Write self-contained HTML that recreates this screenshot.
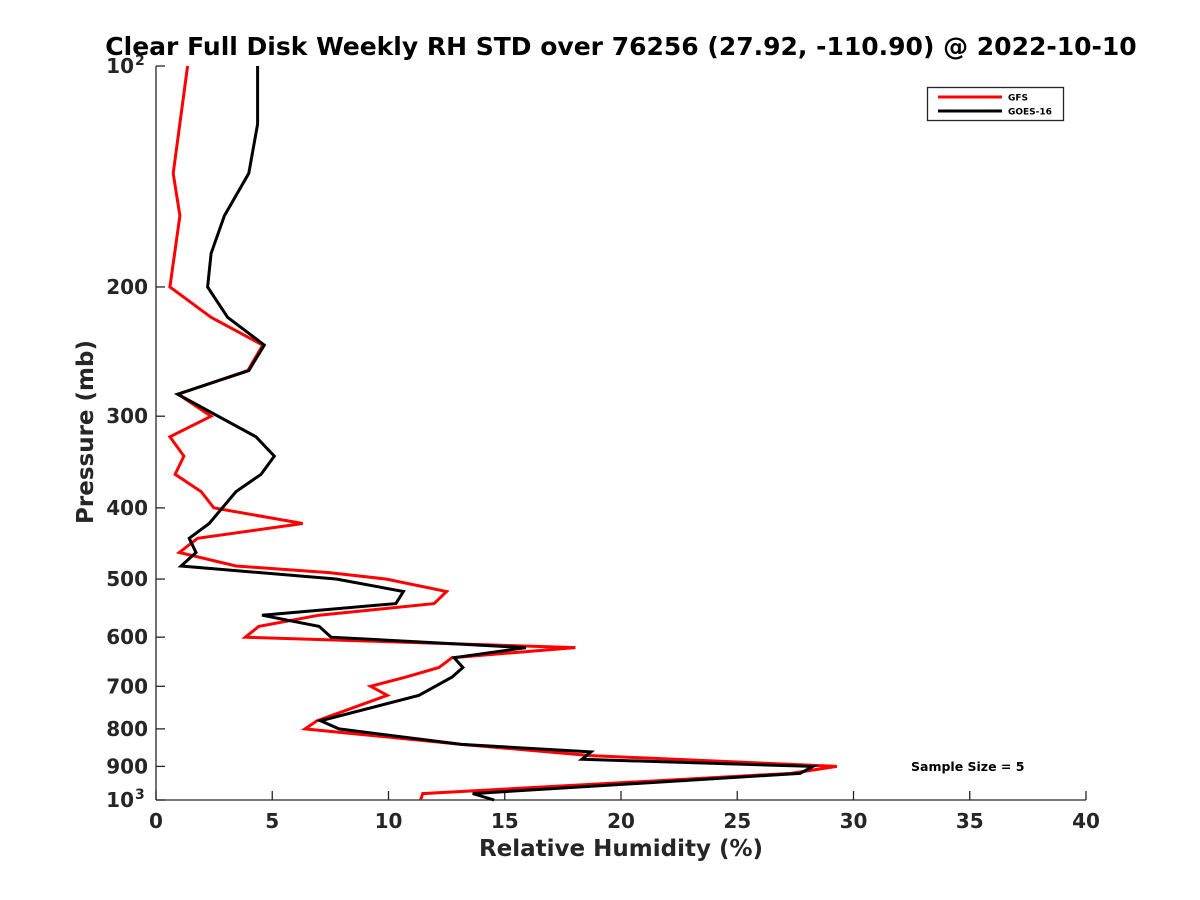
<!DOCTYPE html>
<html><head><meta charset="utf-8"><style>
html,body{margin:0;padding:0;background:#fff;}
svg{display:block;font-family:"DejaVu Sans","Liberation Sans",sans-serif;}
</style></head><body>
<svg id="chart" width="1200" height="900"></svg>
<script>
const gfsPressure=[100,140,160,200,220,240,260,280,300,320,340,360,380,400,420,440,460,480,490,500,520,540,560,580,600,620,640,660,680,700,720,780,800,840,870,900,920,980,1000];
const gfsRH=[1.36,0.74,1.03,0.60,2.37,4.59,3.95,0.95,2.37,0.60,1.20,0.82,1.94,2.49,6.31,1.79,1.00,3.44,7.44,9.89,12.5,11.96,7.01,4.42,3.84,18.04,12.73,12.17,10.75,9.23,9.95,6.92,6.41,13.14,18.71,29.28,27.31,11.47,11.38];
const goesPressure=[100,120,140,160,180,200,220,240,260,280,320,340,360,380,420,440,460,480,500,520,540,560,580,600,620,640,660,680,720,780,800,840,860,880,900,920,980,1000];
const goesRH=[4.37,4.37,3.99,2.94,2.37,2.22,3.08,4.66,3.99,0.93,4.30,5.09,4.52,3.44,2.29,1.43,1.72,1.08,7.74,10.64,10.32,4.56,7.02,7.53,15.91,12.82,13.2,12.73,11.31,7.08,7.87,13.14,18.71,18.32,28.26,27.7,13.62,14.54];
const xTicks=[0,5,10,15,20,25,30,35,40];
const yTicks=[100,200,300,400,500,600,700,800,900,1000];
const yTickLabels=["10","200","300","400","500","600","700","800","900","10"];
const yTickExps=["2","","","","","","","","","3"];

const NS="http://www.w3.org/2000/svg";
const svg=document.getElementById('chart');
const X0=156,X1=1086,Y0=66,Y1=800;
const xs=v=>X0+(v/40)*(X1-X0);
const ys=p=>Y0+Math.log10(p/100)*(Y1-Y0);
function mk(tag,attrs,parent){const e=document.createElementNS(NS,tag);for(const k in attrs)e.setAttribute(k,attrs[k]);(parent||svg).appendChild(e);return e;}

const axes=mk('g',{});


const xa=mk('line',{x1:X0,y1:Y1,x2:X1,y2:Y1,stroke:'#262626','stroke-width':1.3},axes);


const ya=mk('line',{x1:X0,y1:Y0,x2:X0,y2:Y1,stroke:'#262626','stroke-width':1.3},axes);



xTicks.forEach(v=>{
  const t=mk('line',{x1:xs(v),y1:Y1,x2:xs(v),y2:Y1-9,stroke:'#262626','stroke-width':1.3},axes);
  
  
  const l=mk('text',{x:xs(v),y:Y1+28,'text-anchor':'middle','font-size':20,'font-weight':'bold',fill:'#262626'},axes);
  l.textContent=v;
  
  
});
yTicks.forEach((p,i)=>{
  const t=mk('line',{x1:X0,y1:ys(p),x2:X0+9,y2:ys(p),stroke:'#262626','stroke-width':1.3},axes);
  
  
  const exp=yTickExps[i];
  const l=mk('text',{x:exp?X0-22:X0-8,y:ys(p)+7,'text-anchor':'end','font-size':20,'font-weight':'bold',fill:'#262626'},axes);
  l.textContent=yTickLabels[i];
  
  
  if(exp){
    const e=mk('text',{x:X0-21,y:ys(p)-1,'text-anchor':'start','font-size':14,'font-weight':'bold',fill:'#262626'},axes);
    e.textContent=exp;
    
    
  }
});

function series(P,R,color,name){
  const pts=P.map((p,i)=>xs(R[i]).toFixed(1)+','+ys(p).toFixed(1)).join(' ');
  const e=mk('polyline',{points:pts,fill:'none',stroke:color,'stroke-width':3,'stroke-linejoin':'miter'});
  
  
}
series(gfsPressure,gfsRH,'#ff0000','gfs-line');
series(goesPressure,goesRH,'#000000','goes16-line');

const title=mk('text',{x:621,y:55,'text-anchor':'middle','font-size':25,'font-weight':'bold',fill:'#000'});
title.textContent='Clear Full Disk Weekly RH STD over 76256 (27.92, -110.90) @ 2022-10-10';



const xt=mk('text',{x:621,y:856,'text-anchor':'middle','font-size':23,'font-weight':'bold',fill:'#262626'});
xt.textContent='Relative Humidity (%)';



const yt=mk('text',{x:0,y:0,'text-anchor':'middle','font-size':23,'font-weight':'bold',fill:'#262626',transform:'translate(93,432) rotate(-90)'});
yt.textContent='Pressure (mb)';



const lg=mk('g',{});


mk('rect',{x:927.5,y:87.5,width:136,height:33,fill:'#fff',stroke:'#262626','stroke-width':1.3},lg);
const l1=mk('line',{x1:938,y1:97,x2:1002,y2:97,stroke:'#ff0000','stroke-width':3},lg);


const t1=mk('text',{x:1008,y:100.5,'font-size':9,'font-weight':'bold',fill:'#000'},lg);
t1.textContent='GFS';


const l2=mk('line',{x1:938,y1:111,x2:1002,y2:111,stroke:'#000','stroke-width':3},lg);


const t2=mk('text',{x:1008,y:114.5,'font-size':9,'font-weight':'bold',fill:'#000'},lg);
t2.textContent='GOES-16';



const ss=mk('text',{x:911,y:771,'font-size':12.5,'font-weight':'bold',fill:'#000'});
ss.textContent='Sample Size = 5';


</script>
</body></html>
